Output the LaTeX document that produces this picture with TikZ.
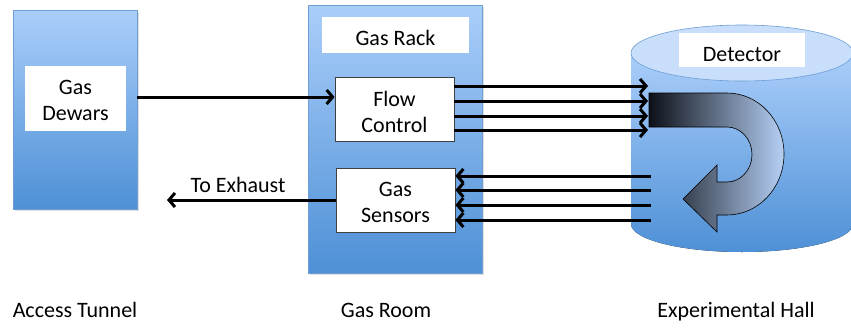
\documentclass[tikz,border=0pt]{standalone}
\usepackage{fontspec}
\setmainfont{Carlito}
\usetikzlibrary{arrows.meta,shadows}
\definecolor{topblue}{RGB}{170,206,250}
\definecolor{botblue}{RGB}{78,144,214}
\definecolor{capblue}{RGB}{200,222,250}
\definecolor{edgeblue}{RGB}{110,158,214}
\definecolor{darkarrow}{RGB}{12,16,24}
\definecolor{lightarrow}{RGB}{182,208,245}
\begin{document}
\begin{tikzpicture}[x=1pt,y=-1pt,
  txt/.style={font=\fontsize{22}{26}\selectfont, align=center, inner sep=0pt},
  whitebox/.style={fill=white, inner sep=0pt},
  ctrlbox/.style={fill=white, draw=black!75, line width=0.8pt, inner sep=0pt},
  room/.style={top color=topblue, bottom color=botblue, draw=edgeblue, line width=0.5pt,
    drop shadow={shadow xshift=1.5pt, shadow yshift=-1.5pt, opacity=0.25}},
  flow/.style={line width=3pt, -{Straight Barb[length=6pt,width=14pt,line width=3pt]}},
  label/.style={font=\fontsize{22}{26}\selectfont, inner sep=0pt, anchor=base}
]
\useasboundingbox (0,0) rectangle (851,327);

% rooms
\node[room, minimum width=124pt, minimum height=199pt, inner sep=0pt] (tunnel) at (75,109.5) {};
\node[room, minimum width=174pt, minimum height=268pt, inner sep=0pt] (gasroom) at (395,139) {};

% cylinder
\fill[top color=topblue, bottom color=botblue] (631,53) -- (631,224)
  arc[start angle=180, end angle=360, x radius=111pt, y radius=28pt] -- (853,53) -- cycle;
\filldraw[fill=capblue, draw=edgeblue, line width=0.6pt] (742,53) ellipse[x radius=111pt, y radius=28pt];

% white boxes
\node[whitebox, minimum width=101pt, minimum height=65pt] (dewars) at (75.5,98.5) {};
\node[whitebox, minimum width=147pt, minimum height=36pt] (rack) at (395.5,35) {};
\node[ctrlbox, minimum width=119pt, minimum height=64pt] (fc) at (394.5,109) {};
\node[ctrlbox, minimum width=119pt, minimum height=64pt] (gs) at (395.5,200) {};
\node[whitebox, minimum width=126pt, minimum height=34pt] (det) at (742,50) {};

\node[txt] (dewarst) at ([yshift=-2pt]dewars.center) {Gas\\Dewars};
\node[txt] (rackt) at ([yshift=-3pt]rack.center) {Gas Rack};
\node[txt] (fct) at ([yshift=-3pt]fc.center) {Flow\\Control};
\node[txt] (gst) at ([yshift=-2.5pt]gs.center) {Gas\\Sensors};
\node[txt] (dett) at ([yshift=-5pt]det.center) {Detector};

% U-turn arrow
\draw[left color=darkarrow, right color=lightarrow, draw=black, line width=0.6pt]
  (649,93) -- (727,93)
  arc[start angle=90, end angle=-90, x radius=57pt, y radius=61pt]
  -- (717,215) -- (717,232) -- (683,199) -- (717,165) -- (717,182) -- (727,182)
  arc[start angle=-90, end angle=90, x radius=25pt, y radius=27.5pt]
  -- (649,127) -- cycle;

% connectors
\coordinate (a1) at (137,97);
\draw[flow] (a1) -- (fc.west |- a1);

\foreach \i/\y in {1/86,2/101,3/116,4/130}{
  \coordinate (in\i) at (648,\y);
  \draw[flow] (fc.east |- in\i) -- (in\i);
}
\foreach \i/\y in {1/176,2/190,3/205,4/220}{
  \coordinate (out\i) at (651,\y);
  \draw[flow] (out\i) -- (gs.east |- out\i);
}

\coordinate (exh) at (167,200);
\draw[flow] (gs.west) -- (exh);
\node[label] (exhlab) at (238,192) {To Exhaust};

% labels
\node[label] (l1) at (75,317) {Access Tunnel};
\node[label] (l2) at (386,317) {Gas Room};
\node[label] (l3) at (736,317) {Experimental Hall};
\end{tikzpicture}
\end{document}
